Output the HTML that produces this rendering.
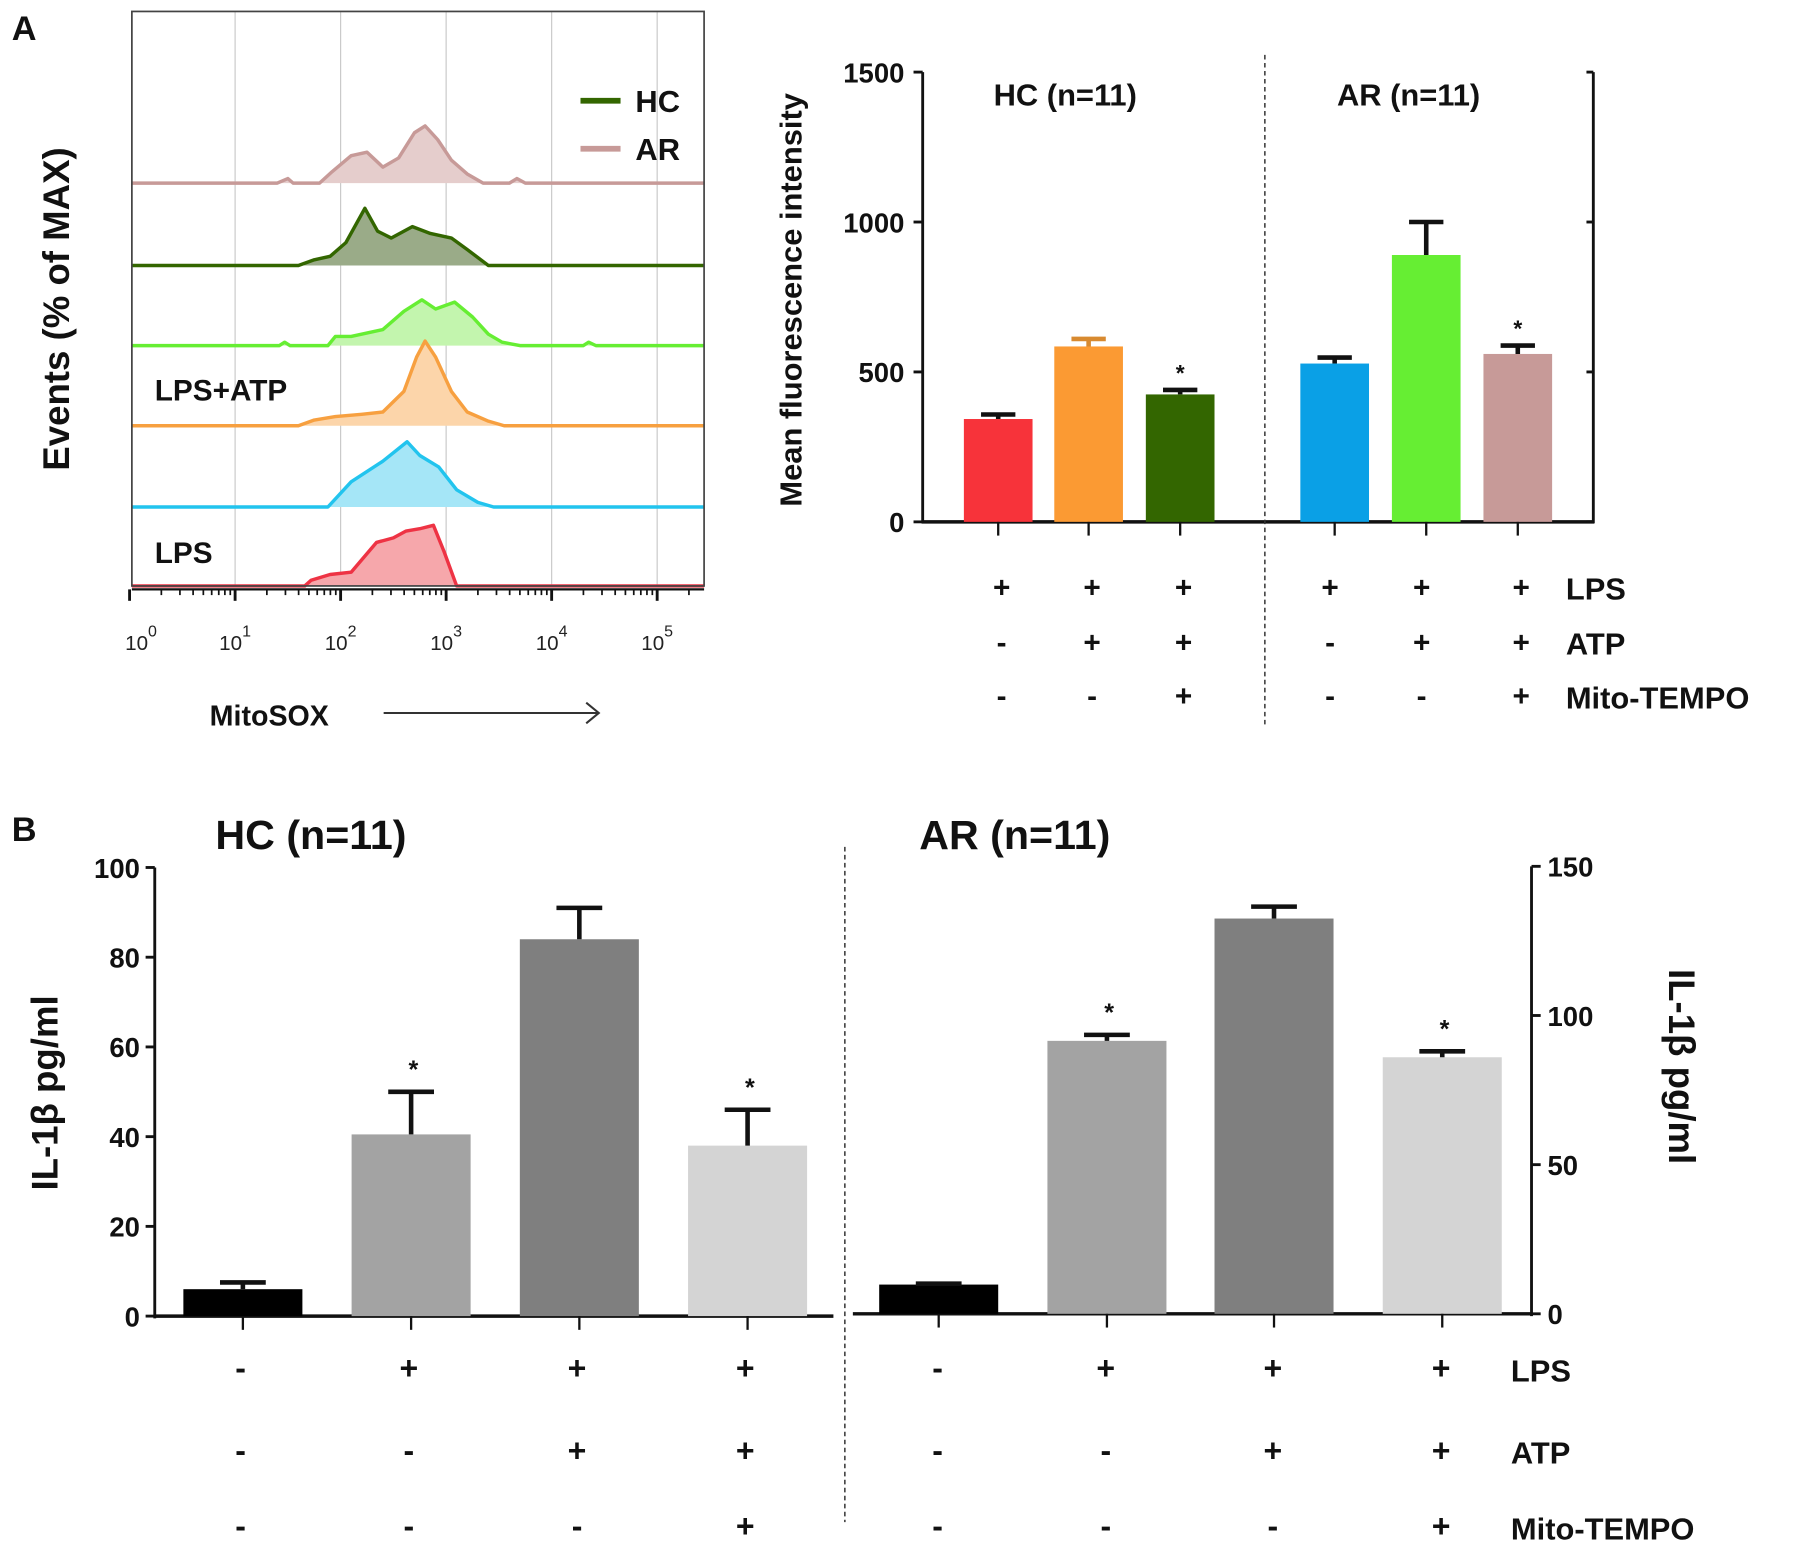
<!DOCTYPE html>
<html><head><meta charset="utf-8"><style>
html,body{margin:0;padding:0;background:#fff}
svg{display:block}
text{font-family:"Liberation Sans",sans-serif}
</style></head><body>
<svg id="fig" width="1795" height="1553" viewBox="0 0 1568 1357" xmlns="http://www.w3.org/2000/svg">
<g id="root"></g>
</svg>
<script>
// ---- Panel A histogram data (x in log10 decades, h in px of peak height) ----
const histNames = ["AR","HC","LPS+ATP AR","LPS+ATP HC","LPS AR","LPS HC"];
const histColors = ["#c79a98","#336600","#66ee33","#f7a040","#22c4ee","#ee3344"];
const histFills = ["#e5cdcc","#9aab88","#c3f5ae","#fcd5aa","#a5e6f7","#f6a7ab"];
const histBaselines = [160,232,302,372,443,512];
const histAR = [[1.4,0],[1.5,4],[1.55,0],[1.8,0],[1.92,10],[2.1,24],[2.25,27],[2.4,14],[2.55,22],[2.7,44],[2.8,50],[2.92,38],[3.05,20],[3.2,8],[3.35,0],[3.6,0],[3.67,4],[3.75,0]];
const histHC = [[1.6,0],[1.75,5],[1.9,8],[2.05,20],[2.23,50],[2.35,30],[2.48,24],[2.68,34],[2.85,28],[3.05,24],[3.2,14],[3.4,0]];
const histG = [[1.42,0],[1.47,3],[1.52,0],[1.88,0],[1.95,8],[2.1,8],[2.4,14],[2.6,30],[2.77,40],[2.9,32],[3.08,38],[3.25,25],[3.4,10],[3.53,3],[3.7,0],[4.3,0],[4.35,3],[4.42,0]];
const histO = [[1.6,0],[1.75,5],[1.95,8],[2.2,10],[2.4,12],[2.6,30],[2.72,60],[2.8,74],[2.9,60],[3.05,30],[3.2,12],[3.4,4],[3.55,0]];
const histB = [[1.88,0],[2.1,22],[2.4,40],[2.63,57],[2.75,45],[2.93,35],[3.1,15],[3.3,4],[3.45,0]];
const histR = [[1.66,0],[1.72,5],[1.9,10],[2.1,12],[2.34,38],[2.5,42],[2.62,48],[2.75,50],[2.88,53],[2.98,30],[3.1,0]];
const histSeries = [histAR,histHC,histG,histO,histB,histR];
const decadeTicks = [0,1,2,3,4,5];

// ---- Panel A bar chart ----
const mfiCats = ["HC LPS","HC LPS+ATP","HC LPS+ATP+MT","AR LPS","AR LPS+ATP","AR LPS+ATP+MT"];
const mfiValues = [343,585,425,528,890,560];
const mfiErrors = [15,25,15,20,110,28];
const mfiColors = ["#f7333a","#fb9a33","#336600","#0aa0e6","#66ee33","#c79a98"];
const mfiStar = [false,false,true,false,false,true];
const mfiTicks = [0,500,1000,1500];

// ---- Panel B ----
const ilHCValues = [6,40.5,84,38];
const ilHCErrors = [1.5,9.5,7,8];
const ilARValues = [9.8,91.5,132.5,86];
const ilARErrors = [0.3,2,4,2];
const ilColors = ["#000000","#a3a3a3","#7f7f7f","#d4d4d4"];
const ilStar = [false,true,false,true];
const ilHCTicks = [0,20,40,60,80,100];
const ilARTicks = [0,50,100,150];

const NS="http://www.w3.org/2000/svg";
const root=document.getElementById('root');
function mk(tag,attrs,parent,txt){const e=document.createElementNS(NS,tag);for(const k in attrs)e.setAttribute(k,attrs[k]);if(txt!==undefined)e.textContent=txt;(parent||root).appendChild(e);return e;}
function txt(x,y,s,size,opt){opt=opt||{};const e=mk('text',{x:x,y:y,'font-size':size,'font-weight':opt.w||'bold','text-anchor':opt.a||'start',fill:'#111'},opt.p,s);if(opt.rot)e.setAttribute('transform',`rotate(${opt.rot} ${x} ${y})`);return e;}

// ======== Panel A left ========
const hx=d=>113+d*92.2;
let t;
t=txt(10,35,"A",30);
const hg=mk('g',{});
decadeTicks.forEach(d=>{if(d>0){const l=mk('line',{x1:hx(d),x2:hx(d),y1:10,y2:512,stroke:'#c8c8c8','stroke-width':1},hg);}});
histSeries.forEach((pts,i)=>{
  const b=histBaselines[i];
  let d=`M115 ${b} `+pts.map(p=>`L${hx(p[0]).toFixed(1)} ${(b-p[1]).toFixed(1)}`).join(' ')+` L615 ${b}`;
  const f=mk('path',{d:d+' Z',fill:histFills[i],stroke:'none'},hg);
  
  const s=mk('path',{d:d,fill:'none',stroke:histColors[i],'stroke-width':3,'stroke-linejoin':'round'},hg);
  
});
const box=mk('rect',{x:115,y:10,width:500,height:502,fill:'none',stroke:'#444','stroke-width':1.5},hg);

mk('line',{x1:115,x2:615,y1:515,y2:515,stroke:'#111','stroke-width':2},hg);
for(let d=0;d<5.4;d++){for(let m=1;m<10;m++){const x=hx(d+Math.log10(m));if(x>615)break;mk('line',{x1:x,x2:x,y1:515,y2:m==1?525:520,stroke:'#111','stroke-width':m==1?2.5:1.5},hg);}}
decadeTicks.forEach(d=>{const g=mk('text',{x:hx(d)+(d==0?10:0),y:568,'font-size':18,'text-anchor':'middle',fill:'#222'},hg);g.innerHTML=`10<tspan dy="-12" font-size="14">${d}</tspan>`;});
t=txt(60,270,"Events  (% of MAX)",32,{a:'middle',rot:-90});
t=txt(183,634,"MitoSOX",25);
const ar=mk('path',{d:'M335 623 L522 623 M512 614 L523 623 L512 632',fill:'none',stroke:'#333','stroke-width':1.8});
t=txt(135,350,"LPS+ATP",26);
t=txt(135,492,"LPS",26);
[["HC","#336600",88],["AR","#c79a98",130]].forEach(e=>{const g=mk('g',{});mk('line',{x1:507,x2:542,y1:e[2],y2:e[2],stroke:e[1],'stroke-width':5},g);txt(555,e[2]+10,e[0],27,{p:g});});

// ======== Panel A right: MFI bars ========
const my=v=>456-v*(393/1500);
const mCx=[872,951,1031,1166,1246,1326];
const mg=mk('g',{});
mk('line',{x1:806,x2:806,y1:my(1500),y2:457,stroke:'#111','stroke-width':2.5},mg);
mk('line',{x1:1392,x2:1392,y1:my(1500),y2:457,stroke:'#111','stroke-width':2.5},mg);
mk('line',{x1:805,x2:1393,y1:456,y2:456,stroke:'#111','stroke-width':3},mg);
mfiTicks.forEach(v=>{mk('line',{x1:798,x2:806,y1:my(v),y2:my(v),stroke:'#111','stroke-width':2.5},mg);mk('line',{x1:1392,x2:1386,y1:my(v),y2:my(v),stroke:'#111','stroke-width':2.5},mg);const l=txt(790,my(v)+9,String(v),24,{a:'end',p:mg});});
mfiValues.forEach((v,i)=>{
  const x=mCx[i];
  const r=mk('rect',{x:x-30,y:my(v),width:60,height:456-my(v),fill:mfiColors[i]},mg);
  
  const e=mfiErrors[i];mk('path',{d:`M${x} ${my(v)} L${x} ${my(v+e)} M${x-15} ${my(v+e)} L${x+15} ${my(v+e)}`,stroke:i==3||i==5?'#111':(i==1?'#d88a30':'#111'),'stroke-width':4},mg);
  mk('line',{x1:x,x2:x,y1:456,y2:468,stroke:'#111','stroke-width':2},mg);
  if(mfiStar[i]){const s=txt(x,my(v+e)-8,"*",20,{a:'middle',p:mg});}
});
t=txt(700,262,"Mean fluorescence intensity",27,{a:'middle',rot:-90});
t=txt(868,92,"HC (n=11)",27);
t=txt(1168,92,"AR (n=11)",27);
const dv=mk('line',{x1:1105,x2:1105,y1:48,y2:635,stroke:'#333','stroke-width':1.3,'stroke-dasharray':'4 3'});
const mRows=[["LPS",[1,1,1,1,1,1],513],["ATP",[0,1,1,0,1,1],561],["Mito-TEMPO",[0,0,1,0,0,1],608]];
mRows.forEach(r=>{r[1].forEach((s,i)=>{txt(mCx[i]+(i>=3&&i<5?-4:3),r[2]+9,s?"+":"-",26,{a:'middle'});});const l=txt(1368,r[2]+11,r[0],27);});

// ======== Panel B ========
t=txt(10,735,"B",30);
t=txt(188,742,"HC (n=11)",36);
t=txt(803,742,"AR (n=11)",36);
const ly=v=>1150-v*3.92;
const ry=v=>1148-v*(391/150);
const bL=[212,359,506,653],bR=[820,967,1113,1260];
const bg=mk('g',{});
mk('line',{x1:135,x2:135,y1:ly(100),y2:1152,stroke:'#111','stroke-width':2.5},bg);
mk('line',{x1:134,x2:728,y1:1150,y2:1150,stroke:'#111','stroke-width':3},bg);
mk('line',{x1:1338,x2:1338,y1:ry(150),y2:1150,stroke:'#111','stroke-width':2.5},bg);
mk('line',{x1:745,x2:1339,y1:1148,y2:1148,stroke:'#111','stroke-width':3},bg);
ilHCTicks.forEach(v=>{mk('line',{x1:127,x2:135,y1:ly(v),y2:ly(v),stroke:'#111','stroke-width':2.5},bg);const l=txt(122,ly(v)+9,String(v),24,{a:'end',p:bg});});
ilARTicks.forEach(v=>{mk('line',{x1:1338,x2:1346,y1:ry(v),y2:ry(v),stroke:'#111','stroke-width':2.5},bg);const l=txt(1352,ry(v)+9,String(v),24,{p:bg});});
function bars(vals,errs,cx,yf,base,name){vals.forEach((v,i)=>{const x=cx[i];
  const r=mk('rect',{x:x-52,y:yf(v),width:104,height:base-yf(v),fill:ilColors[i]},bg);
  
  const e=errs[i];mk('path',{d:`M${x} ${yf(v)} L${x} ${yf(v+e)} M${x-20} ${yf(v+e)} L${x+20} ${yf(v+e)}`,stroke:'#111','stroke-width':4},bg);
  mk('line',{x1:x,x2:x,y1:base,y2:base+12,stroke:'#111','stroke-width':2},bg);
  if(ilStar[i]){const s=txt(x+2,yf(v+e)-12,"*",22,{a:'middle',p:bg});}
});}
bars(ilHCValues,ilHCErrors,bL,ly,1150,'il-hc');
bars(ilARValues,ilARErrors,bR,ry,1148,'il-ar');
t=txt(50,955,"IL-1β  pg/ml",32,{a:'middle',rot:-90});
t=txt(1458,932,"IL-1β  pg/ml",32,{a:'middle',rot:90});
const dv2=mk('line',{x1:738,x2:738,y1:740,y2:1330,stroke:'#333','stroke-width':1.3,'stroke-dasharray':'4 3'});
const bRows=[["LPS",[0,1,1,1],1195],["ATP",[0,0,1,1],1267],["Mito-TEMPO",[0,0,0,1],1333]];
bRows.forEach(r=>{r[1].forEach((s,i)=>{txt(bL[i]-2,r[2]+10,s?"+":"-",28,{a:'middle'});txt(bR[i]-1,r[2]+10,s?"+":"-",28,{a:'middle'});});const l=txt(1320,r[2]+12,r[0],27);});
</script>
</body></html>
